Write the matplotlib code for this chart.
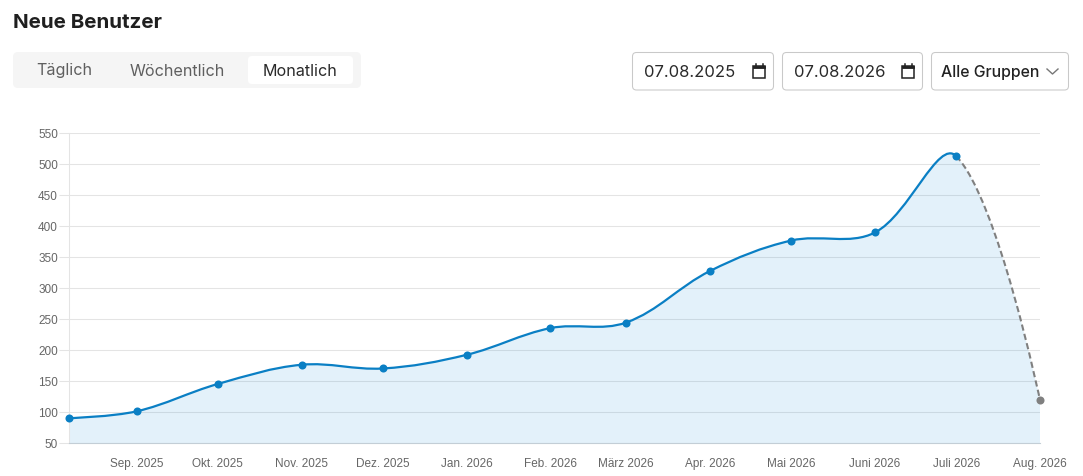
import datetime as dt

import matplotlib
matplotlib.use("Agg")
import matplotlib.dates as mdates
import matplotlib.pyplot as plt
import numpy as np
from matplotlib.patches import FancyBboxPatch, PathPatch, Rectangle
from matplotlib.path import Path

W, H = 1083, 477

dates = [dt.date(2025, 8, 7), dt.date(2025, 9, 1), dt.date(2025, 10, 1), dt.date(2025, 11, 1),
         dt.date(2025, 12, 1), dt.date(2026, 1, 1), dt.date(2026, 2, 1), dt.date(2026, 3, 1),
         dt.date(2026, 4, 1), dt.date(2026, 5, 1), dt.date(2026, 6, 1), dt.date(2026, 7, 1),
         dt.date(2026, 8, 1)]
users = [90, 101, 145, 176, 170, 192, 235, 244, 327, 376, 389, 512, 119]
month_labels = ["Sep. 2025", "Okt. 2025", "Nov. 2025", "Dez. 2025", "Jan. 2026", "Feb. 2026",
                "März 2026", "Apr. 2026", "Mai 2026", "Juni 2026", "Juli 2026", "Aug. 2026"]
y_ticks = list(range(50, 551, 50))
tabs = ["Täglich", "Wöchentlich", "Monatlich"]
date_from = "07.08.2025"
date_to = "07.08.2026"
group_label = "Alle Gruppen"

BLUE = "#0a7fc4"
GREY = "#808080"
UI = "Inter"


def bezier_segments(px, py, tension=0.36):
    """Kontrollpunkte fuer die geglaettete Linie, im Pixelraum gerechnet."""
    pts = np.column_stack([px, py])
    n = len(pts)
    before, after = pts.copy(), pts.copy()
    for i in range(1, n - 1):
        d01 = np.hypot(*(pts[i] - pts[i - 1]))
        d12 = np.hypot(*(pts[i + 1] - pts[i]))
        s = d01 + d12
        delta = pts[i + 1] - pts[i - 1]
        before[i] = pts[i] - tension * d01 / s * delta
        after[i] = pts[i] + tension * d12 / s * delta
    return pts, before, after


def curve_path(pts, before, after, start, stop, closed_to=None):
    verts = [pts[start]]
    codes = [Path.MOVETO]
    for i in range(start, stop):
        verts += [after[i], before[i + 1], pts[i + 1]]
        codes += [Path.CURVE4] * 3
    if closed_to is not None:
        verts += [(pts[stop][0], closed_to), (pts[start][0], closed_to), pts[start]]
        codes += [Path.LINETO, Path.LINETO, Path.CLOSEPOLY]
    return Path(verts, codes)


fig = plt.figure(figsize=(W / 100, H / 100), dpi=100, facecolor="white")

# Diagramm
left, right, top, bottom = 69, 1040, 133.5, 444
ax = fig.add_axes([left / W, 1 - bottom / H, (right - left) / W, (bottom - top) / H])
xs = mdates.date2num(dates)
ax.set_xlim(xs[0], xs[-1])
ax.set_ylim(50, 550)
ax.set_yticks(y_ticks)
ax.set_xticks(xs[1:])
ax.set_xticklabels(month_labels)
ax.grid(axis="y", color="#e4e4e4", lw=0.75)
ax.set_axisbelow(True)
for side in ["top", "right"]:
    ax.spines[side].set_visible(False)
ax.spines["left"].set_color("#e4e4e4")
ax.spines["left"].set_linewidth(0.75)
ax.spines["bottom"].set_color("#c3ced6")
ax.tick_params(axis="y", length=7, width=0.75, color="#e4e4e4", pad=1, labelsize=8.5, labelcolor="#666666")
ax.tick_params(axis="x", length=0, pad=10.3, labelsize=8.5, labelcolor="#666666")
for lab in ax.get_xticklabels() + ax.get_yticklabels():
    lab.set_fontfamily("Liberation Sans")

fig.canvas.draw()
disp = ax.transData.transform(np.column_stack([xs, users]))
pts, before, after = bezier_segments(disp[:, 0], disp[:, 1])
base = ax.transData.transform((xs[0], 50))[1]
n = len(users) - 1

ax.add_patch(PathPatch(curve_path(pts, before, after, 0, n, closed_to=base), transform=None,
                       facecolor="#0a8ad4", alpha=0.115, lw=0, clip_on=True, zorder=2))
ax.add_patch(PathPatch(curve_path(pts, before, after, 0, n - 1), transform=None, fill=False,
                       edgecolor=BLUE, lw=1.6, clip_on=False, zorder=3))
ax.add_patch(PathPatch(curve_path(pts, before, after, n - 1, n), transform=None, fill=False,
                       edgecolor=GREY, lw=1.5, linestyle=(0, (3, 1.6)), clip_on=False, zorder=3))
ax.plot(xs[:-1], users[:-1], "o", color=BLUE, ms=5.8, mew=0, clip_on=False, zorder=4)
ax.plot(xs[-1:], users[-1:], "o", color=GREY, ms=5.8, mew=0, clip_on=False, zorder=4)

# Kopfzeile und Bedienelemente, Pixelkoordinaten wie im Screenshot
ui = fig.add_axes([0, 0, 1, 1], facecolor="none", zorder=5)
ui.set_xlim(0, W)
ui.set_ylim(H, 0)
ui.axis("off")


def box(x, y, w, h, r, fc, ec="none", lw=0.0, **kw):
    ui.add_patch(FancyBboxPatch((x + r, y + r), w - 2 * r, h - 2 * r,
                                boxstyle=f"round,pad={r},rounding_size={r}",
                                fc=fc, ec=ec, lw=lw, **kw))


def calendar(cx, cy):
    ui.add_patch(Rectangle((cx - 6, cy - 5), 12, 11.5, fc="none", ec="#222222", lw=1.1))
    ui.add_patch(Rectangle((cx - 6, cy - 5), 12, 2, fc="#222222", ec="#222222", lw=0.6))
    for dx in (-3.5, 3.5):
        ui.plot([cx + dx, cx + dx], [cy - 7.5, cy - 5], color="#222222", lw=1.1)


ui.text(13, 23, "Neue Benutzer", family=UI, fontsize=14.8, fontweight="bold", color="#1f1f1f", va="center")

box(13, 53, 348, 36, 5, "#f5f5f5")
box(248, 57, 105, 28, 4, "white")
ui.text(64, 71, tabs[0], family=UI, fontsize=11.6, color="#5f5f5f", ha="center", va="center")
ui.text(177, 71, tabs[1], family=UI, fontsize=11.6, color="#5f5f5f", ha="center", va="center")
ui.text(300.5, 71, tabs[2], family=UI, fontsize=11.6, color="#2a2a2a", ha="center", va="center")

box(632.5, 53.5, 141, 37.5, 4, "white", ec="#c9c9c9", lw=0.75)
ui.text(644, 72.5, date_from, family=UI, fontsize=12, color="#2a2a2a", va="center")
calendar(759, 72)
box(782.5, 53.5, 140, 37.5, 4, "white", ec="#c9c9c9", lw=0.75)
ui.text(794, 72.5, date_to, family=UI, fontsize=12, color="#2a2a2a", va="center")
calendar(908, 72)
box(931.5, 53.5, 137, 37.5, 4, "white", ec="#c9c9c9", lw=0.75)
ui.text(941, 72.5, group_label, family=UI, fontsize=11.4, fontweight="medium", color="#222222", va="center")
ui.plot([1047, 1052.5, 1058], [70, 75, 70], color="#777777", lw=1.0)

fig.savefig("out.png", dpi=100)
